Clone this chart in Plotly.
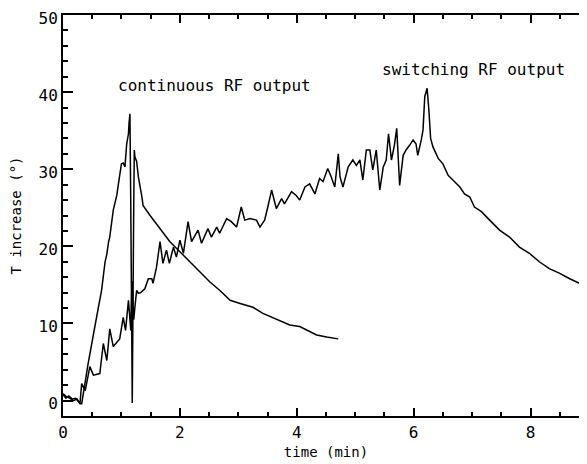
import plotly.graph_objects as go

# ---- data ----
continuous = [
    (0.00, 0.8), (0.05, 0.3), (0.10, 0.6), (0.16, 0.2), (0.22, 0.3), (0.29, -0.4),
    (0.32, -0.4), (0.43, 4.8), (0.55, 9.8), (0.66, 14.3), (0.72, 18.0), (0.75, 19.0),
    (0.78, 20.6), (0.80, 21.2), (0.86, 24.7), (0.92, 26.6), (0.97, 29.2), (1.00, 30.7),
    (1.03, 30.8), (1.06, 30.3), (1.09, 33.3), (1.12, 34.6), (1.13, 36.0), (1.145, 37.2),
    (1.16, 25.0), (1.185, -0.3), (1.21, 25.0), (1.22, 32.5), (1.23, 31.6), (1.26, 31.0),
    (1.29, 29.0), (1.35, 26.4), (1.37, 25.3), (1.49, 24.0), (1.66, 22.3), (1.83, 20.6),
    (2.00, 19.3), (2.17, 18.0), (2.34, 16.7), (2.51, 15.4), (2.68, 14.3), (2.86, 13.0),
    (3.03, 12.6), (3.25, 12.1), (3.42, 11.3), (3.65, 10.6), (3.88, 9.8), (4.05, 9.6),
    (4.34, 8.5), (4.51, 8.25), (4.71, 8.0),
]

switching = [
    (0.00, 0.9), (0.06, 0.5), (0.12, 0.3), (0.18, 0.0), (0.24, 0.2), (0.29, -0.4),
    (0.32, 2.2), (0.38, 1.3), (0.46, 4.4), (0.52, 3.3), (0.63, 3.5), (0.69, 7.4),
    (0.75, 5.2), (0.80, 9.3), (0.86, 7.0), (0.97, 8.0), (1.03, 10.8), (1.07, 9.1),
    (1.12, 13.0), (1.16, 9.1), (1.18, 15.5), (1.21, 10.5), (1.23, 12.1), (1.26, 14.3),
    (1.29, 13.9), (1.33, 14.0), (1.40, 14.5), (1.46, 15.8), (1.52, 15.8), (1.54, 15.2),
    (1.60, 17.3), (1.66, 20.6), (1.71, 17.8), (1.77, 19.5), (1.82, 17.8), (1.89, 19.9),
    (1.94, 18.6), (2.00, 20.8), (2.06, 19.1), (2.14, 23.2), (2.20, 20.6), (2.31, 22.1),
    (2.37, 20.4), (2.48, 22.3), (2.54, 21.2), (2.63, 22.5), (2.68, 21.7), (2.80, 23.6),
    (2.88, 23.2), (2.97, 22.5), (3.05, 25.1), (3.11, 23.4), (3.20, 23.6), (3.31, 23.4),
    (3.37, 22.5), (3.45, 23.4), (3.51, 25.3), (3.57, 27.3), (3.65, 24.9), (3.74, 26.2),
    (3.79, 25.5), (3.91, 27.1), (3.99, 26.6), (4.05, 26.0), (4.14, 27.7), (4.22, 28.1),
    (4.31, 26.8), (4.39, 28.8), (4.45, 28.4), (4.53, 30.1), (4.59, 29.0), (4.65, 27.7),
    (4.71, 32.0), (4.74, 29.0), (4.79, 27.7), (4.88, 30.3), (4.96, 31.2), (5.02, 30.5),
    (5.08, 31.2), (5.13, 28.6), (5.19, 32.5), (5.25, 32.5), (5.30, 29.9), (5.36, 32.5),
    (5.42, 27.3), (5.48, 30.3), (5.53, 31.2), (5.57, 34.6), (5.62, 31.2), (5.67, 33.1),
    (5.71, 35.3), (5.76, 27.9), (5.82, 31.8), (5.87, 32.5), (5.93, 33.1), (5.99, 33.8),
    (6.04, 33.3), (6.07, 31.8), (6.13, 33.8), (6.16, 35.1), (6.19, 39.4), (6.23, 40.5),
    (6.26, 37.7), (6.29, 34.0), (6.33, 32.9), (6.42, 31.4), (6.50, 30.7), (6.59, 29.2),
    (6.67, 28.6), (6.79, 27.7), (6.87, 26.8), (6.96, 26.4), (7.04, 25.1), (7.16, 24.5),
    (7.30, 23.4), (7.47, 22.1), (7.64, 21.2), (7.81, 19.9), (7.98, 19.1), (8.15, 18.0),
    (8.32, 17.1), (8.50, 16.5), (8.67, 15.8), (8.84, 15.2), (9.00, 14.9),
]

labels = ["continuous RF output", "switching RF output"]
label_pos = [(0.90, 40.9), (5.42, 42.9)]

x_title = "time (min)"
y_title = "T increase (°)"
x_range = [0, 9]
y_range = [-2, 50]

FONT = "DejaVu Sans Mono"

cont_t = [p[0] for p in continuous]
cont_T = [p[1] for p in continuous]
sw_t = [p[0] for p in switching]
sw_T = [p[1] for p in switching]

fig = go.Figure()
line = dict(color="black", width=1.5)
fig.add_trace(go.Scatter(x=cont_t, y=cont_T, mode="lines", line=line, showlegend=False))
fig.add_trace(go.Scatter(x=sw_t, y=sw_T, mode="lines", line=line, showlegend=False))

for txt, (lx, ly) in zip(labels, label_pos):
    fig.add_annotation(x=lx, y=ly, text=txt, showarrow=False, xanchor="left",
                       yanchor="middle", font=dict(family=FONT, size=16, color="black"))

fig.update_layout(
    width=587, height=464,
    margin=dict(l=55, r=6, t=7, b=56, autoexpand=False),
    paper_bgcolor="white", plot_bgcolor="white",
    font=dict(family=FONT, size=16, color="black"),
    xaxis=dict(
        range=x_range, showgrid=False, zeroline=False, automargin=False,
        showline=True, linecolor="black", linewidth=2, mirror="ticks",
        ticks="inside", ticklen=8, tickwidth=1.5, tickcolor="black",
        tick0=0, dtick=2, ticklabelstandoff=1, ticklabeloverflow="allow",
        minor=dict(ticks="inside", ticklen=4, tickwidth=1.5, tickcolor="black", dtick=0.5, tick0=0, showgrid=False),
        title=dict(text=x_title, font=dict(family=FONT, size=14), standoff=6),
        tickfont=dict(family=FONT, size=16),
    ),
    yaxis=dict(
        range=y_range, showgrid=False, zeroline=False, automargin=False,
        showline=True, linecolor="black", linewidth=2, mirror="ticks",
        ticks="inside", ticklen=10, tickwidth=1.5, tickcolor="black",
        tick0=0, dtick=10, ticklabeloverflow="allow", ticklabelshift=3,
        minor=dict(ticks="inside", ticklen=5, tickwidth=1.5, tickcolor="black", dtick=2, tick0=0, showgrid=False),
        title=dict(text=y_title, font=dict(family=FONT, size=14), standoff=16),
        tickfont=dict(family=FONT, size=16),
    ),
)

fig.write_html("out.html")
